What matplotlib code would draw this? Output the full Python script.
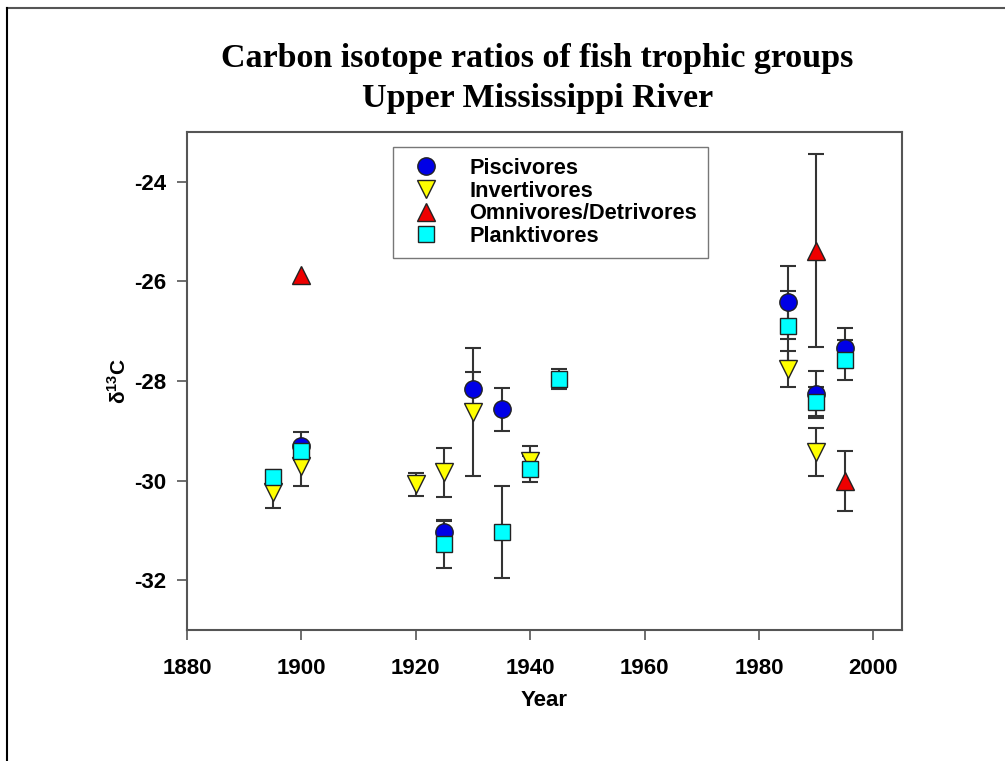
import numpy as np
import matplotlib
matplotlib.use('Agg')
import matplotlib.pyplot as plt
from matplotlib.lines import Line2D

plt.rcParams['font.family'] = ['Liberation Sans', 'DejaVu Sans']
plt.rcParams['font.weight'] = 'bold'
plt.rcParams['axes.unicode_minus'] = False
plt.rcParams['mathtext.fontset'] = 'custom'
plt.rcParams['mathtext.rm'] = 'Liberation Sans:bold'
plt.rcParams['mathtext.bf'] = 'Liberation Sans:bold'

# data
pisc_years = [1900, 1925, 1930, 1935, 1985, 1990, 1995]
pisc = [-29.31, -31.03, -28.15, -28.57, -26.42, -28.25, -27.33]
pisc_err = [0.28, 0.22, 0.33, 0.43, 0.74, 0.45, 0.40]

inv_years = [1895, 1900, 1920, 1925, 1930, 1940, 1985, 1990]
inv = [-30.23, -29.71, -30.07, -29.83, -28.62, -29.60, -27.75, -29.43]
inv_err = [0.32, 0.39, 0.23, 0.49, 1.29, 0.30, 0.36, 0.48]

omni_years = [1900, 1990, 1995]
omni = [-25.88, -25.38, -30.01]
omni_err = [np.nan, 1.94, 0.60]

plank_years = [1895, 1900, 1925, 1935, 1940, 1945, 1985, 1990, 1995]
plank = [-29.93, -29.40, -31.27, -31.03, -29.77, -27.95, -26.89, -28.43, -27.57]
plank_err = [0.15, 0.10, 0.48, 0.93, 0.26, 0.20, 0.70, 0.32, 0.40]

series = [
    ('Piscivores', pisc_years, pisc, pisc_err, 'o', '#0000e6', 12.5),
    ('Invertivores', inv_years, inv, inv_err, 'v', '#ffff00', 12.5),
    ('Omnivores/Detrivores', omni_years, omni, omni_err, '^', '#ee0000', 12.5),
    ('Planktivores', plank_years, plank, plank_err, 's', '#00ffff', 11),
]

fig = plt.figure(figsize=(10.05, 7.61), dpi=100)
ax = fig.add_axes([0.186, 0.172, 0.7115, 0.6545])

handles = []
for i, (name, x, y, e, m, c, ms) in enumerate(series):
    ax.errorbar(x, y, yerr=e, fmt='none', ecolor='#333333', elinewidth=1.5,
                capsize=6, capthick=1.5, zorder=2)
    h, = ax.plot(x, y, linestyle='none', marker=m, markersize=ms,
                 markerfacecolor=c, markeredgecolor='#222222',
                 markeredgewidth=1.0, zorder=3 + i, label=name)
    handles.append(h)

ax.set_xlim(1880, 2005)
ax.set_ylim(-33, -23)
ax.set_xticks([1880, 1900, 1920, 1940, 1960, 1980, 2000])
ax.set_yticks([-32, -30, -28, -26, -24])

for s in ['left', 'bottom', 'top', 'right']:
    ax.spines[s].set_color('#555555')
    ax.spines[s].set_linewidth(1.5)
ax.tick_params(axis='both', direction='out', length=7, width=1.2,
               color='#555555', labelsize=16)
ax.tick_params(axis='x', pad=13)
ax.tick_params(axis='y', pad=8)

ax.set_xlabel('Year', fontsize=16, fontweight='bold', labelpad=8)
ax.set_ylabel(r'δ$^{13}$C', fontsize=15, fontweight='bold', labelpad=3)

leg = ax.legend(handles=handles, loc='upper left', bbox_to_anchor=(0.288, 0.970),
                fontsize=15.7, frameon=True, fancybox=False, edgecolor='#555555',
                labelspacing=0.08, handletextpad=1.0, borderpad=0.5,
                handlelength=2.0, borderaxespad=0)
leg.get_frame().set_linewidth(1.0)
for t in leg.get_texts():
    t.set_fontweight('bold')

fig.text(0.535, 0.923, 'Carbon isotope ratios of fish trophic groups',
         ha='center', va='center', fontsize=24.5, fontweight='bold',
         family=['Liberation Serif', 'DejaVu Serif'])
fig.text(0.535, 0.871, 'Upper Mississippi River',
         ha='center', va='center', fontsize=24.5, fontweight='bold',
         family=['Liberation Serif', 'DejaVu Serif'])

# slide frame lines
fig.add_artist(Line2D([7 / 1005, 1], [1 - 8 / 761, 1 - 8 / 761],
                      transform=fig.transFigure, color='#555555', linewidth=1.5))
fig.add_artist(Line2D([7 / 1005, 7 / 1005], [0, 1 - 8 / 761],
                      transform=fig.transFigure, color='black', linewidth=1.5))

fig.savefig('out.png', dpi=100)
